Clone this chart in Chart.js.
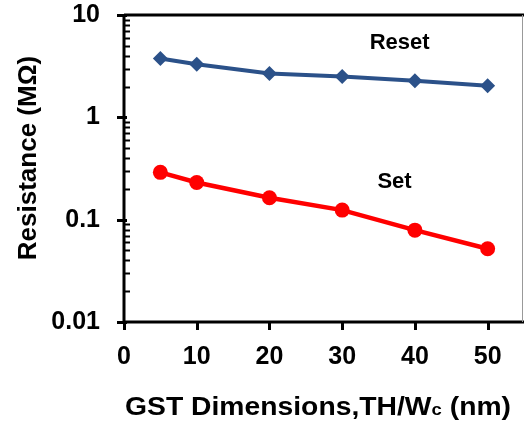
<!DOCTYPE html>
<html>
<head>
<meta charset="utf-8">
<script src="https://cdn.jsdelivr.net/npm/chart.js@4.4.1/dist/chart.umd.min.js"></script>
<style>
  html, body { margin: 0; padding: 0; background: #fff; }
  #wrap { width: 524px; height: 427px; }
</style>
</head>
<body>
<div id="wrap"><canvas id="myChart"></canvas></div>
<script>
// data
const dims = [5, 10, 20, 30, 40, 50];
const resetValues = [3.75, 3.3, 2.68, 2.5, 2.28, 2.04];
const setValues = [0.29, 0.231, 0.164, 0.124, 0.079, 0.052];
const yTicks = [0.01, 0.1, 1, 10];
const xTicks = [0, 10, 20, 30, 40, 50];

const fam = 'Arial, "Liberation Sans", sans-serif';
const boldFont = { family: fam, weight: 'bold', size: 25 };

// minor ticks on the log axis go inward, majors outward
const axisTicks = {
    id: 'axisTicks',
    afterDraw(chart) {
        const ctx = chart.ctx;
        const y = chart.scales.y;
        const x = chart.scales.x;
        const area = chart.chartArea;
        ctx.save();
        ctx.strokeStyle = '#000';
        ctx.lineWidth = 2;
        for (let d = 0.01; d < 10; d *= 10) {
            for (let m = 2; m <= 9; m++) {
                const py = Math.round(y.getPixelForValue(d * m)) + 0.5;
                ctx.beginPath();
                ctx.moveTo(area.left, py);
                ctx.lineTo(area.left + 6, py);
                ctx.stroke();
            }
        }
        ctx.lineWidth = 3;
        yTicks.forEach(function (v) {
            const py = Math.round(y.getPixelForValue(v)) + 0.5;
            ctx.beginPath();
            ctx.moveTo(area.left - 7, py);
            ctx.lineTo(area.left + 3, py);
            ctx.stroke();
        });
        xTicks.forEach(function (v) {
            const px = Math.round(x.getPixelForValue(v)) + 0.5;
            ctx.beginPath();
            ctx.moveTo(px, area.bottom);
            ctx.lineTo(px, area.bottom + 8);
            ctx.stroke();
        });
        // axis frame
        ctx.lineWidth = 3;
        ctx.beginPath();
        ctx.moveTo(area.left, area.top);
        ctx.lineTo(area.left, area.bottom);
        ctx.lineTo(area.right, area.bottom);
        ctx.stroke();
        ctx.beginPath();
        ctx.moveTo(area.left, area.top);
        ctx.lineTo(area.right, area.top);
        ctx.stroke();
        ctx.lineWidth = 1;
        ctx.strokeStyle = '#999';
        ctx.beginPath();
        ctx.moveTo(area.right - 1.5, area.top);
        ctx.lineTo(area.right - 1.5, area.bottom);
        ctx.stroke();

        // series labels
        ctx.fillStyle = '#000';
        ctx.font = 'bold 22px ' + fam;
        ctx.textAlign = 'center';
        ctx.textBaseline = 'middle';
        ctx.fillText('Reset', x.getPixelForValue(37.9), y.getPixelForValue(5.3));
        ctx.fillText('Set', x.getPixelForValue(37.2), y.getPixelForValue(0.235));

        // y axis title
        ctx.save();
        ctx.translate(29, 158);
        ctx.rotate(-Math.PI / 2);
        ctx.font = 'bold 26px ' + fam;
        ctx.fillText('Resistance (MΩ)', 0, 0);
        ctx.restore();

        // x axis title with subscript c, stretched a little like the original
        ctx.font = 'bold 26px ' + fam;
        ctx.textAlign = 'left';
        ctx.textBaseline = 'alphabetic';
        const part1 = 'GST Dimensions,TH/W';
        const sub = 'c';
        const part2 = ' (nm)';
        const w1 = ctx.measureText(part1).width;
        ctx.font = 'bold 17px ' + fam;
        const ws = ctx.measureText(sub).width;
        ctx.font = 'bold 26px ' + fam;
        const w2 = ctx.measureText(part2).width;
        const total = w1 + ws + w2;
        const k = 386 / total;
        ctx.translate(318 - 193, 415);
        ctx.scale(k, 1);
        ctx.fillText(part1, 0, 0);
        ctx.font = 'bold 17px ' + fam;
        ctx.fillText(sub, w1, 0);
        ctx.font = 'bold 26px ' + fam;
        ctx.fillText(part2, w1 + ws, 0);
        ctx.restore();
    }
};

const myChart = new Chart(document.getElementById('myChart'), {
    type: 'line',
    data: {
        datasets: [{
            label: 'Reset',
            data: dims.map(function (d, i) { return { x: d, y: resetValues[i] }; }),
            borderColor: '#2b5189',
            backgroundColor: '#2b5189',
            borderWidth: 4,
            pointStyle: 'rectRot',
            pointRadius: 7.5,
            pointBorderWidth: 0,
            pointHoverRadius: 7.5
        },
        {
            label: 'Set',
            data: dims.map(function (d, i) { return { x: d, y: setValues[i] }; }),
            borderColor: '#ff0000',
            backgroundColor: '#ff0000',
            borderWidth: 4.5,
            pointStyle: 'circle',
            pointRadius: 7.5,
            pointBorderWidth: 0,
            pointHoverRadius: 7.5
        }]
    },
    options: {
        responsive: true,
        maintainAspectRatio: false,
        animation: false,
        layout: { autoPadding: false, padding: { top: 15, right: 0, left: 0, bottom: 0 } },
        plugins: {
            legend: { display: false },
            tooltip: { enabled: false }
        },
        scales: {
            x: {
                type: 'linear',
                min: 0,
                max: 55,
                afterFit: function (scale) {
                    scale.height = 105;
                    scale.paddingLeft = 0;
                    scale.paddingRight = 0;
                },
                afterBuildTicks: function (scale) {
                    scale.ticks = xTicks.map(function (v) { return { value: v }; });
                },
                grid: { display: false, drawTicks: false },
                border: { display: false },
                ticks: {
                    font: boldFont,
                    color: '#000',
                    padding: 20,
                    maxRotation: 0
                }
            },
            y: {
                type: 'logarithmic',
                min: 0.01,
                max: 10,
                afterFit: function (scale) {
                    scale.width = 124;
                    scale.paddingTop = 0;
                    scale.paddingBottom = 0;
                },
                afterBuildTicks: function (scale) {
                    scale.ticks = yTicks.map(function (v) { return { value: v }; });
                },
                grid: { display: false, drawTicks: false },
                border: { display: false },
                ticks: {
                    font: boldFont,
                    color: '#000',
                    padding: 24,
                    callback: function (v) { return String(v); }
                }
            }
        }
    },
    plugins: [axisTicks]
});
</script>
</body>
</html>
